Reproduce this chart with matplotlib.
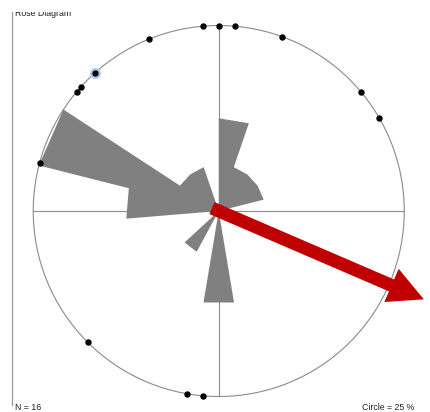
import numpy as np
import matplotlib.pyplot as plt
from matplotlib.patches import Polygon, Circle, FancyArrow

# rose petals: 19 equal sectors, values in percent of N
n_bins = 19
petal_percent = [12.5, 6.25, 6.25, 6.25, 0, 0, 0, 0, 0, 12.5,
                 0, 6.25, 0, 0, 12.5, 25, 6.25, 6.25, 0]
circle_percent = 25

# individual measurements (azimuth, degrees clockwise from north)
point_azimuths = [0, 5, 20, 50, 60, 185, 190, 225, 285, 310, 312, 318, 338, 355]
selected_azimuth = 318

# mean direction arrow
mean_azimuth = 113.3
mean_length = 1.204   # relative to circle radius

n_total = 16

plt.rcParams['font.family'] = ['Liberation Sans', 'DejaVu Sans']

def polar(az, r):
    a = np.radians(az)
    return r * np.sin(a), r * np.cos(a)

fig = plt.figure(figsize=(4.31, 4.12), dpi=100)

# main axes: circle radius = 1 data unit (185.5 px)
ax = fig.add_axes([0, 0, 1, 1])
ax.set_xlim(-1.1792, 1.1442)
ax.set_ylim(-1.0836, 1.1375)
ax.axis('off')

line_grey = '#8a8a8a'

ax.plot([-1, 1], [0, 0], color=line_grey, lw=0.8, zorder=1)
ax.plot([0, 0], [-1, 1], color=line_grey, lw=0.8, zorder=1)
ax.add_patch(Circle((0, 0), 1, fill=False, ec=line_grey, lw=0.8, zorder=1))

# join neighbouring sectors into one outline so no seams show
edges = np.linspace(0, 360, n_bins + 1)
pts = [(0, 0)]
for i, pct in enumerate(petal_percent):
    r = pct / circle_percent
    if r <= 0:
        pts.append((0, 0))
        continue
    pts.append(polar(edges[i], r))
    pts.append(polar(edges[i + 1], r))
pts.append((0, 0))
ax.add_patch(Polygon(pts, closed=True, fc='#808080', ec='none', zorder=2))

for az in point_azimuths:
    x, y = polar(az, 1)
    if az == selected_azimuth:
        ax.plot(x, y, 'o', ms=6.2, mfc='none', mec='#a8c8ee', mew=1.6, zorder=4)
    ax.plot(x, y, 'o', ms=3.6, color='black', zorder=5)

start = -0.04
sx, sy = polar(mean_azimuth, start)
dx, dy = polar(mean_azimuth, mean_length - start)
ax.add_patch(FancyArrow(sx, sy, dx, dy, width=0.07, head_width=0.195,
                        head_length=0.19, length_includes_head=True,
                        fc='#c00000', ec='none', zorder=6))

# frame axes in pixel units (clips the title at the top)
frame_h = 400.3
fr = fig.add_axes([0, 0, 1, frame_h / 412])
fr.set_xlim(0, 431)
fr.set_ylim(0, frame_h)
fr.axis('off')
fr.plot([11.8, 11.8], [7, frame_h], color='#999999', lw=0.9)
fr.text(15, 412 - 16.5, 'Rose Diagram', fontsize=6.3, color='#222222',
        clip_on=True)
fr.text(15, 1.5, 'N = %d' % n_total, fontsize=6.3, color='#222222')
fr.text(414, 1.5, 'Circle = %d %%' % circle_percent, fontsize=6.3,
        color='#222222', ha='right')

plt.savefig('out.png', dpi=100)
